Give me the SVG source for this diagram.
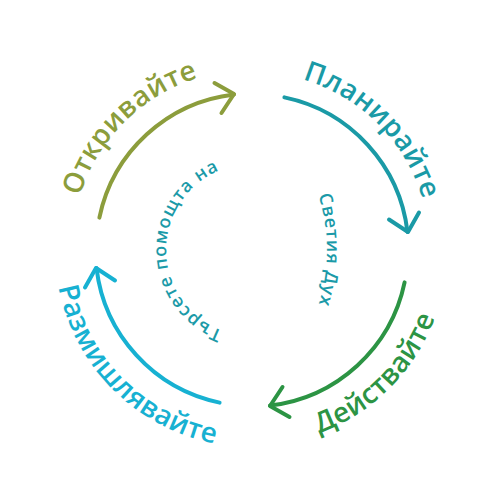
<svg xmlns="http://www.w3.org/2000/svg" xmlns:xlink="http://www.w3.org/1999/xlink" width="500" height="500" viewBox="0 0 500 500">
  <style>
    .arc { fill: none; stroke-width: 4; stroke-linecap: round; stroke-linejoin: round; }
    .lbl { font-family: "Open Sans", "Noto Sans", "DejaVu Sans", sans-serif; font-size: 28px; font-weight: 600; letter-spacing: 0.3px; }
    .inner { font-family: "Open Sans", "Noto Sans", "DejaVu Sans", sans-serif; font-size: 18px; font-weight: 600; letter-spacing: 1px; fill: #1b9aa8; }
  </style>
  <defs>
    <path id="p-otk" d="M78.0,297.0 A180,180 0 0 1 299.0,76.0"/>
    <path id="p-plan" d="M205.9,78.1 A178,178 0 0 1 423.9,296.1"/>
    <path id="p-deis" d="M201.5,438.4 A195,195 0 0 0 440.4,199.5"/>
    <path id="p-razm" d="M61.7,199.0 A197,197 0 0 0 303.0,440.3"/>
    <path id="p-tars" d="M238.5,334.9 A86,86 0 0 1 235.6,165.6"/>
    <path id="p-duh" d="M309.9,173.1 A182,182 0 0 1 309.9,326.9"/>
    <g id="arrow-shape">
      <path d="M99.4,217.6 A156,156 0 0 1 234,94.5"/>
      <path d="M214.5,83 L234,94 L221.5,113"/>
    </g>
  </defs>

  <g id="connectors">
    <use xlink:href="#arrow-shape" class="arc" stroke="#8c9d3c"/>
    <use xlink:href="#arrow-shape" class="arc" stroke="#1a9aa6" transform="rotate(90 252 250)"/>
    <use xlink:href="#arrow-shape" class="arc" stroke="#2c9444" transform="rotate(180 252 250)"/>
    <use xlink:href="#arrow-shape" class="arc" stroke="#17b1d2" transform="rotate(270 252 250)"/>
  </g>

  <g id="node-otkrivaite">
    <text class="lbl" fill="#8c9d3c"><textPath xlink:href="#p-otk" startOffset="50%" text-anchor="middle">Откривайте</textPath></text>
  </g>
  <g id="node-planiraite">
    <text class="lbl" fill="#1a9aa6"><textPath xlink:href="#p-plan" startOffset="50%" text-anchor="middle">Планирайте</textPath></text>
  </g>
  <g id="node-deistvaite">
    <text class="lbl" fill="#2c9444"><textPath xlink:href="#p-deis" startOffset="50%" text-anchor="middle">Действайте</textPath></text>
  </g>
  <g id="node-razmishlyavaite">
    <text class="lbl" fill="#17b1d2"><textPath xlink:href="#p-razm" startOffset="50%" text-anchor="middle">Размишлявайте</textPath></text>
  </g>
  <g id="center-text">
    <text class="inner"><textPath xlink:href="#p-tars" startOffset="50%" text-anchor="middle">Търсете помощта на</textPath></text>
    <text class="inner"><textPath xlink:href="#p-duh" startOffset="50%" text-anchor="middle">Светия Дух</textPath></text>
  </g>
</svg>
